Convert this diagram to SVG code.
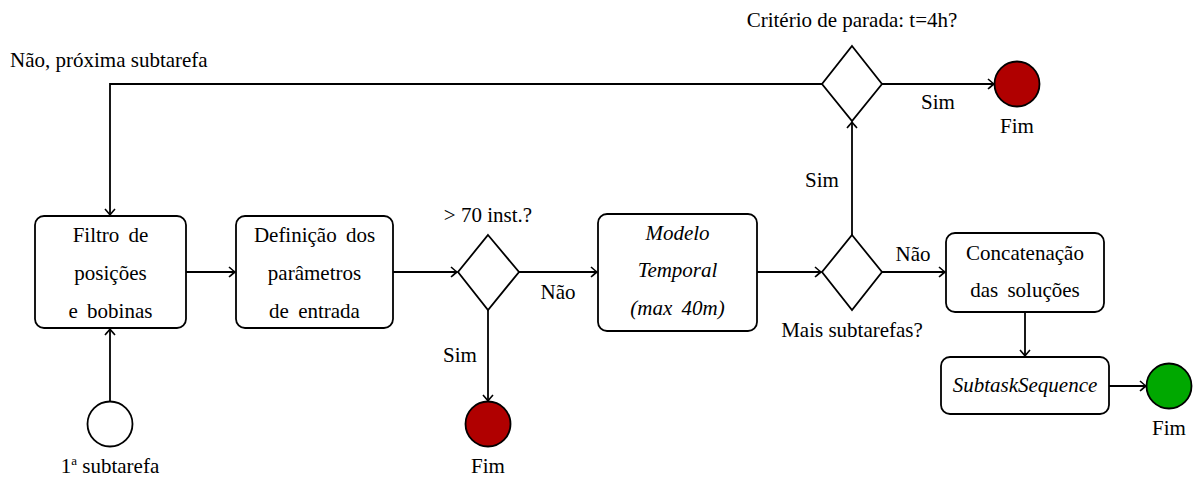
<svg xmlns="http://www.w3.org/2000/svg" width="1198" height="478" viewBox="0 0 1198 478" font-family="'Liberation Serif', 'Times New Roman', Times, serif" font-size="21">
<defs>
<marker id="arr" markerUnits="userSpaceOnUse" markerWidth="14" markerHeight="14" viewBox="-8 -7 10 14" refX="0" refY="0" orient="auto">
<path d="M-6,-5 Q-1.5,-1 0,0 Q-1.5,1 -6,5" fill="none" stroke="#000" stroke-width="1.6"/>
</marker>
</defs>
<style>
text{font-family:'Liberation Serif','Times New Roman',Times,serif;font-size:21px;fill:#000;}
.c{text-anchor:middle;}
.i{font-style:italic;}
.box{fill:#fff;stroke:#000;stroke-width:1.8;}
.dia{fill:#fff;stroke:#000;stroke-width:1.8;}
.edge{fill:none;stroke:#000;stroke-width:1.8;marker-end:url(#arr);}
.end{stroke:#000;stroke-width:1.8;}
</style>
<rect width="1198" height="478" fill="#fff"/>
<g id="connectors">
<line class="edge" x1="110" y1="401" x2="110" y2="329"/>
<line class="edge" x1="186" y1="272" x2="235" y2="272"/>
<line class="edge" x1="393" y1="272" x2="457" y2="272"/>
<line class="edge" x1="519" y1="272" x2="597" y2="272"/>
<line class="edge" x1="488" y1="310" x2="488" y2="401"/>
<line class="edge" x1="757" y1="272" x2="821" y2="272"/>
<line class="edge" x1="882" y1="272" x2="945" y2="272"/>
<line class="edge" x1="852" y1="235" x2="852" y2="122"/>
<line class="edge" x1="882" y1="84" x2="994" y2="84"/>
<path class="edge" d="M822,84 H110 V215"/>
<line class="edge" x1="1025" y1="312" x2="1025" y2="356"/>
<line class="edge" x1="1109" y1="386" x2="1146" y2="386"/>
</g>
<g id="labels">
<text x="10" y="67">Não, próxima subtarefa</text>
<text class="c" x="558" y="299">Não</text>
<text class="c" x="460" y="362">Sim</text>
<text class="c" x="913" y="261">Não</text>
<text class="c" x="822" y="187">Sim</text>
<text class="c" x="938" y="109">Sim</text>
</g>
<g id="start">
<circle cx="110" cy="424" r="22.5" fill="#fff" class="end"/>
<text class="c" x="110" y="473">1<tspan font-size="13" dy="-8">a</tspan><tspan dy="8"> subtarefa</tspan></text>
</g>
<g id="filtro">
<rect class="box" x="35" y="216" width="151" height="112" rx="9"/>
<text class="c" x="110.5" y="242" word-spacing="4">Filtro de</text>
<text class="c" x="110.5" y="280">posições</text>
<text class="c" x="110.5" y="318" word-spacing="4">e bobinas</text>
</g>
<g id="definicao">
<rect class="box" x="236" y="216" width="157" height="112" rx="9"/>
<text class="c" x="314.5" y="242" word-spacing="4">Definição dos</text>
<text class="c" x="314.5" y="280">parâmetros</text>
<text class="c" x="314.5" y="318" word-spacing="4">de entrada</text>
</g>
<g id="dec70">
<polygon class="dia" points="488,235 519,272 488,310 458,272"/>
<text class="c" x="488" y="222">&gt; 70 inst.?</text>
</g>
<g id="fim1">
<circle cx="488" cy="424" r="22.5" fill="#b00000" class="end"/>
<text class="c" x="488" y="473">Fim</text>
</g>
<g id="modelo">
<rect class="box" x="598" y="214" width="159" height="117" rx="9"/>
<text class="c i" x="677.5" y="240">Modelo</text>
<text class="c i" x="677.5" y="277">Temporal</text>
<text class="c i" x="677.5" y="315" word-spacing="4">(max 40m)</text>
</g>
<g id="decmais">
<polygon class="dia" points="852,235 882,272 852,310 822,272"/>
<text class="c" x="852" y="337">Mais subtarefas?</text>
</g>
<g id="decparada">
<polygon class="dia" points="852,46 882,84 852,121 822,84"/>
<text class="c" x="852" y="27">Critério de parada: t=4h?</text>
</g>
<g id="fim2">
<circle cx="1017" cy="84" r="22.5" fill="#b00000" class="end"/>
<text class="c" x="1017" y="133">Fim</text>
</g>
<g id="concat">
<rect class="box" x="946" y="233" width="158" height="79" rx="9"/>
<text class="c" x="1025" y="260">Concatenação</text>
<text class="c" x="1025" y="297" word-spacing="4">das soluções</text>
</g>
<g id="subtask">
<rect class="box" x="941" y="357" width="168" height="57" rx="9"/>
<text class="c i" x="1025" y="392">SubtaskSequence</text>
</g>
<g id="fim3">
<circle cx="1169" cy="386" r="22.5" fill="#00a800" class="end"/>
<text class="c" x="1169" y="435">Fim</text>
</g>
</svg>
